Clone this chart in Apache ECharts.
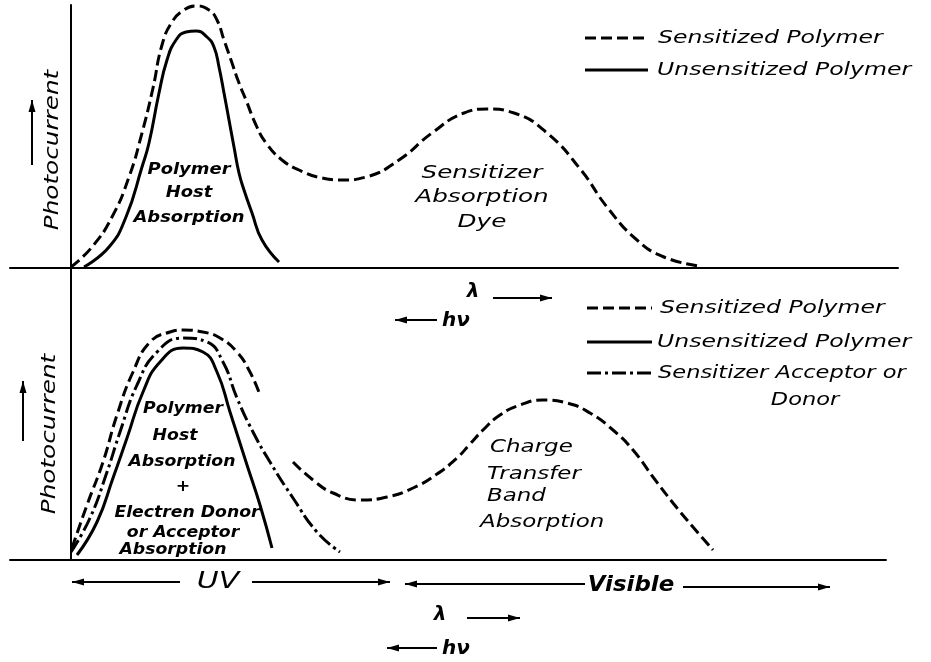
<!DOCTYPE html>
<html>
<head>
<meta charset="utf-8">
<script src="https://cdn.jsdelivr.net/npm/echarts@6/dist/echarts.min.js"></script>
<style>
html,body{margin:0;padding:0;background:#fff;}
#chart{width:931px;height:662px;}
</style>
</head>
<body>
<div id="chart"></div>
<script>
// ---- Schematic data (arbitrary units: wavelength → , photocurrent ↑) ----
// Top panel: Sensitized polymer (dashed), Unsensitized polymer (solid)
const topSensitizedX   = [0,21,41,58,71,82,91,101,113,125,138,146,153,160,168,175,185,195,211,228,251,271,295,328,361,393,416,443,476,510,536,566,593,628];
const topSensitizedY   = [1,21,51,91,135,180,223,246,258,262,258,248,228,208,185,168,143,125,108,98,90,88,91,108,135,155,159,155,135,98,61,28,11,2];
const topUnsensitizedX = [13,38,55,71,78,88,96,105,115,125,136,143,148,153,158,163,168,173,181,191,208];
const topUnsensitizedY = [1,21,51,101,125,175,208,228,236,237,231,221,201,175,148,121,95,78,55,28,6];

// Bottom panel: Sensitized polymer (dashed, two bands), Unsensitized (solid), Sensitizer acceptor/donor (dash-dot)
const botSensitizedX   = [1,16,32,46,62,79,99,112,132,149,166,179,189, 205, 222,242,262,289,316,342,366,386,399,412,429,449,472,496,519,542,562,582,602,622,642];
const botSensitizedY   = [12,55,98,145,188,218,228,230,228,222,208,188,165, null, 98,80,67,60,63,72,86,102,116,130,145,155,160,157,147,130,110,83,57,33,10];
const botUnsensitizedX = [6,26,42,56,72,89,112,132,146,159,176,189,201];
const botUnsensitizedY = [5,38,82,122,168,198,212,208,188,148,95,55,12];
const botAcceptorX     = [0,19,36,49,66,86,112,136,152,166,182,199,222,246,269];
const botAcceptorY     = [8,42,88,128,175,208,222,218,198,162,128,98,62,28,8];

// Text content
const legendTop    = ['Sensitized Polymer', 'Unsensitized Polymer'];
const legendBottom = ['Sensitized Polymer', 'Unsensitized Polymer', 'Sensitizer Acceptor or', 'Donor'];
const yAxisName    = 'Photocurrent';
const topLabelHost = ['Polymer', 'Host', 'Absorption'];
const topLabelDye  = ['Sensitizer', 'Absorption', 'Dye'];
const botLabelHost = ['Polymer', 'Host', 'Absorption', '+', 'Electren Donor', 'or Acceptor', 'Absorption'];
const botLabelCT   = ['Charge', 'Transfer', 'Band', 'Absorption'];
const regionLabels = ['UV', 'Visible'];

function pairs(xs, ys){ return xs.map((x,i)=> ys[i]==null ? [x,null] : [x, ys[i]]); }

const FF = '"DejaVu Sans"';
const DASH = [11,5];
const DASHDOT = [14,4,3,4];

function txt(x,y,text,size,align,weight,sx){
  return {type:'text', x:x, y:y, scaleX:sx||1.3, silent:true,
    style:{text:text, font:'italic '+(weight||'normal')+' '+size+'px '+FF, fill:'#000',
           align:align||'left', verticalAlign:'middle'}};
}
function seg(x1,y1,x2,y2,dash,w){
  return {type:'line', silent:true, shape:{x1:x1,y1:y1,x2:x2,y2:y2},
    style:{stroke:'#000', lineWidth:w||3, lineDash:dash||null}};
}
// horizontal/vertical arrow with head at (x2,y2)
function arrow(x1,y1,x2,y2){
  const els=[seg(x1,y1,x2,y2,null,2)];
  const dx=Math.sign(x2-x1), dy=Math.sign(y2-y1);
  let pts;
  if(dx!==0){ pts=[[x2,y2],[x2-dx*12,y2-3.5],[x2-dx*12,y2+3.5]]; }
  else { pts=[[x2,y2],[x2-3.5,y2-dy*12],[x2+3.5,y2-dy*12]]; }
  els.push({type:'polygon', silent:true, shape:{points:pts}, style:{fill:'#000'}});
  return els;
}

const graphics = [];
// legends
graphics.push(seg(585,38,648,38,DASH), txt(658,38,legendTop[0],18,'left','normal',1.31));
graphics.push(seg(585,70,648,70), txt(657,70,legendTop[1],18,'left','normal',1.31));
graphics.push(seg(587,308,652,308,DASH), txt(660,308,legendBottom[0],18,'left','normal',1.31));
graphics.push(seg(587,342,652,342), txt(657,342,legendBottom[1],18,'left','normal',1.31));
graphics.push(seg(587,373,652,373,DASHDOT), txt(658,373,legendBottom[2],18,'left','normal',1.25));
graphics.push(txt(805,400,legendBottom[3],18,'center','normal',1.25));
// y labels + arrows
graphics.push(Object.assign(txt(53,150,yAxisName,19,'center','normal',1.3),{rotation:Math.PI/2}));
graphics.push(Object.assign(txt(50,434,yAxisName,19,'center','normal',1.3),{rotation:Math.PI/2}));
graphics.push(...arrow(32,165,32,100));
graphics.push(...arrow(23,441,23,381));
// top panel annotations
[170,193,218].forEach((y,i)=>graphics.push(txt(189,y,topLabelHost[i],16,'center','bold',1.12)));
[173,197,222].forEach((y,i)=>graphics.push(txt(482,y,topLabelDye[i],18,'center','normal',1.37)));
graphics.push(txt(473,292,'λ',20,'center','bold',1));
graphics.push(...arrow(493,298,552,298));
graphics.push(...arrow(437,320,395,320));
graphics.push(txt(442,321,'hν',20,'left','bold',1));
// bottom panel annotations
const hostX=[183,175,182,183,187,183,173], hostY=[409,436,462,487,513,533,550];
botLabelHost.forEach((t,i)=>graphics.push(txt(hostX[i],hostY[i],t,15,'center','bold',1.15)));
const ctX=[490,487,487,480];
[448,475,497,523].forEach((y,i)=>graphics.push(txt(ctX[i],y,botLabelCT[i],17,'left','normal',1.35)));
graphics.push(...arrow(180,582,72,582));
graphics.push(txt(218,582,regionLabels[0],23,'center','normal',1.3));
graphics.push(...arrow(252,582,390,582));
graphics.push(...arrow(585,584,405,584));
graphics.push(txt(631,586,regionLabels[1],21,'center','bold',1.09));
graphics.push(...arrow(683,587,830,587));
graphics.push(txt(440,615,'λ',20,'center','bold',1));
graphics.push(...arrow(467,618,520,618));
graphics.push(...arrow(437,648,387,648));
graphics.push(txt(442,649,'hν',20,'left','bold',1));

function axisX(idx,min,max){
  return {type:'value', gridIndex:idx, min:min, max:max,
    axisLine:{show:true, onZero:false, lineStyle:{color:'#000', width:2}},
    axisTick:{show:false}, axisLabel:{show:false}, splitLine:{show:false}};
}
function axisY(idx,max){
  return {type:'value', gridIndex:idx, min:0, max:max,
    axisLine:{show:true, onZero:true, lineStyle:{color:'#000', width:2}},
    axisTick:{show:false}, axisLabel:{show:false}, splitLine:{show:false}};
}
function line(name,xi,data,type){
  return {name:name, type:'line', xAxisIndex:xi, yAxisIndex:xi, data:data,
    showSymbol:false, smooth:0.5, connectNulls:false, silent:true,
    lineStyle:{color:'#000', width:3, type:type}};
}

const chart = echarts.init(document.getElementById('chart'), null, {renderer:'canvas'});
chart.setOption({
  backgroundColor:'#fff',
  animation:false,
  grid:[
    {left:10, top:5, width:888, height:263},
    {left:10, top:268, width:876, height:292}
  ],
  xAxis:[axisX(0,-61,827), axisX(1,-61,815)],
  yAxis:[axisY(0,263), axisY(1,292)],
  series:[
    line('Sensitized Polymer',0,pairs(topSensitizedX,topSensitizedY),DASH),
    line('Unsensitized Polymer',0,pairs(topUnsensitizedX,topUnsensitizedY),'solid'),
    line('Sensitized Polymer',1,pairs(botSensitizedX,botSensitizedY),DASH),
    line('Unsensitized Polymer',1,pairs(botUnsensitizedX,botUnsensitizedY),'solid'),
    line('Sensitizer Acceptor or Donor',1,pairs(botAcceptorX,botAcceptorY),DASHDOT)
  ],
  graphic:graphics
});
</script>
</body>
</html>
